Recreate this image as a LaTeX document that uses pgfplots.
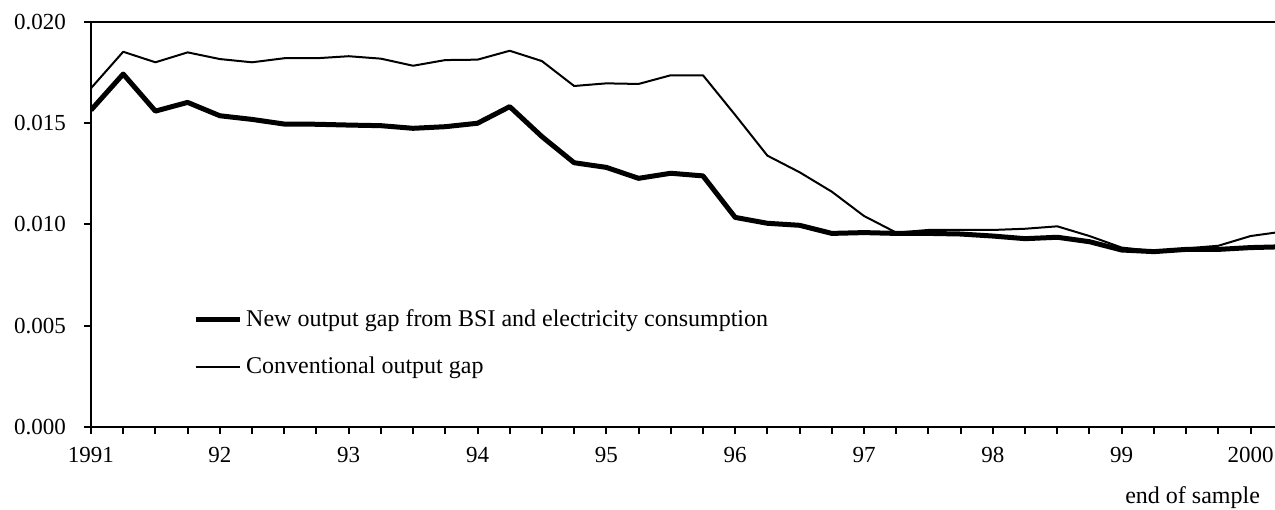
\documentclass[border=0pt]{standalone}
\usepackage{fontspec}
\setmainfont{Liberation Serif}
\usepackage{pgfplots}
\pgfplotsset{compat=1.18}

% quarterly output gap estimates
\pgfplotstableread{
x        new      conv
1991.00  0.01565  0.01673
1991.25  0.01743  0.01853
1991.50  0.01560  0.01801
1991.75  0.01603  0.01850
1992.00  0.01537  0.01817
1992.25  0.01519  0.01801
1992.50  0.01496  0.01821
1992.75  0.01495  0.01821
1993.00  0.01491  0.01831
1993.25  0.01488  0.01819
1993.50  0.01475  0.01784
1993.75  0.01483  0.01812
1994.00  0.01500  0.01814
1994.25  0.01582  0.01858
1994.50  0.01434  0.01807
1994.75  0.01305  0.01684
1995.00  0.01282  0.01697
1995.25  0.01228  0.01694
1995.50  0.01253  0.01737
1995.75  0.01240  0.01737
1996.00  0.01035  0.01541
1996.25  0.01006  0.01340
1996.50  0.00996  0.01258
1996.75  0.00956  0.01162
1997.00  0.00960  0.01042
1997.25  0.00956  0.00960
1997.50  0.00956  0.00973
1997.75  0.00953  0.00973
1998.00  0.00943  0.00973
1998.25  0.00930  0.00979
1998.50  0.00937  0.00991
1998.75  0.00915  0.00943
1999.00  0.00874  0.00886
1999.25  0.00866  0.00869
1999.50  0.00877  0.00882
1999.75  0.00877  0.00895
2000.00  0.00886  0.00943
2000.25  0.00890  0.00965
}\gapdata

\begin{document}
\begin{tikzpicture}
\begin{axis}[
    name = ax,
    scale only axis,
    width = 592pt,
    height = 202.5pt,
    xmin = 1991, xmax = 2000.19,
    ymin = 0, ymax = 0.02,
    axis lines = left,
    axis line style = {-, line width = 1pt},
    tick style = {black, line width = 1pt},
    tick align = outside,
    major tick length = 3.5pt,
    minor tick length = 3.5pt,
    scaled y ticks = false,
    xtick = {1991, 1992, ..., 2000},
    xticklabels = {1991, 92, 93, 94, 95, 96, 97, 98, 99, 2000},
    minor x tick num = 3,
    xticklabel style = {yshift = -3pt},
    ytick = {0, 0.005, 0.01, 0.015},
    yticklabels = {0.000, 0.005, 0.010, 0.015},
    extra y ticks = {0.02},
    extra y tick labels = {0.020},
    extra y tick style = {grid = major, major grid style = {black, line width = 1pt}},
    yticklabel style = {xshift = -5.5pt},
    tick label style = {font = \fontsize{11.5}{13.5}\selectfont},
    legend style = {
        at = {(rel axis cs:0.086, 0.30)}, anchor = north west,
        draw = none, fill = none,
        font = \fontsize{12}{14}\selectfont,
        row sep = 9.5pt,
        inner sep = 0pt,
        cells = {anchor = west}
    },
    legend image code/.code = {\draw[#1] (0pt,0pt) -- (22pt,0pt);},
]
\addplot[black, line width = 2.5pt, line join = round] table[x = x, y = new] {\gapdata};
\addlegendentry{New output gap from BSI and electricity consumption}
\addplot[black, line width = 1pt, line join = round] table[x = x, y = conv] {\gapdata};
\addlegendentry{Conventional output gap}
\end{axis}
\node[anchor = east, font = \fontsize{12}{14}\selectfont] at ([xshift = -4pt, yshift = -35.5pt]ax.south east) {end of sample};
\pgfresetboundingbox
\path ([xshift = -45.5pt, yshift = -41pt]ax.south west) rectangle ([yshift = 11pt]ax.north east);
\end{tikzpicture}
\end{document}
